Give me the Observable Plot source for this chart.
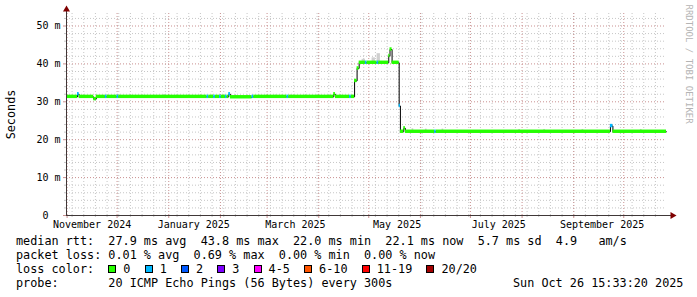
<!DOCTYPE html>
<html><head><meta charset="utf-8">
<script src="https://cdn.jsdelivr.net/npm/d3@7"></script>
<script src="https://cdn.jsdelivr.net/npm/@observablehq/plot@0.6"></script>
<style>
html,body{margin:0;padding:0;background:#fff;}
#wrap{width:697px;height:297px;position:relative;background:#fff;overflow:hidden;}
#wrap svg{display:block;}
#legend{position:absolute;left:0;top:232px;margin:0;padding:2px 0 0 16px;font-family:"DejaVu Sans Mono",monospace;font-size:11.8px;line-height:14px;color:#000;white-space:pre;}
#stamp{position:absolute;left:513px;top:276px;margin:0;font-family:"DejaVu Sans Mono",monospace;font-size:11.8px;line-height:14px;color:#000;white-space:pre;}
.box{display:inline-block;width:8px;height:8px;border:1px solid #000;box-sizing:border-box;margin-right:7px;vertical-align:baseline;}
</style></head><body><div id="wrap"></div>
<script>
// ---- time window (last 360 days) ----
const startTime = new Date("2024-10-31T15:33:20Z");
const endTime = new Date("2025-10-26T15:33:20Z");

// ---- median rtt (ms) as step points, with loss bucket index ----
const seriesDates = [
  "2024-10-31T15:33:20Z","2024-11-07T06:00Z","2024-11-08T06:00Z","2024-11-17T00:00Z","2024-11-18T12:00Z",
  "2024-11-24T00:00Z","2024-11-25T00:00Z","2024-12-01T00:00Z","2024-12-02T00:00Z",
  "2025-01-24T00:00Z","2025-01-25T00:00Z","2025-01-28T00:00Z","2025-01-29T00:00Z",
  "2025-01-31T12:00Z","2025-02-01T12:00Z","2025-02-04T00:00Z","2025-02-05T00:00Z",
  "2025-02-06T00:00Z","2025-02-07T00:00Z","2025-02-20T00:00Z","2025-02-21T00:00Z",
  "2025-03-13T00:00Z","2025-03-14T00:00Z","2025-04-10T00:00Z","2025-04-11T00:00Z",
  "2025-04-19T12:00Z","2025-04-20T12:00Z","2025-04-22T12:00Z","2025-04-24T00:00Z","2025-04-25T06:00Z",
  "2025-04-29T00:00Z","2025-04-30T00:00Z","2025-05-06T00:00Z","2025-05-07T00:00Z",
  "2025-05-13T00:00Z","2025-05-13T18:00Z","2025-05-15T00:00Z","2025-05-19T06:00Z","2025-05-20T00:00Z",
  "2025-05-22T00:00Z","2025-05-23T00:00Z","2025-06-09T12:00Z","2025-06-10T12:00Z",
  "2025-09-23T00:00Z","2025-09-24T12:00Z","2025-10-26T15:33:20Z"
];
const seriesRtt = [
  31.3,32.0,31.3,30.7,31.3,
  31.3,31.3,31.3,31.3,
  31.3,31.3,31.3,31.3,
  31.3,31.3,31.3,31.3,
  32.0,31.2,31.3,31.3,
  31.3,31.3,32.0,31.3,
  31.3,31.3,35.5,38.8,40.3,
  40.3,40.3,40.3,40.3,
  42.1,43.8,40.3,28.9,22.1,
  23.0,22.1,22.1,22.1,
  23.6,22.1,22.1
];
const seriesLoss = [
  0,1,0,0,0,
  1,0,1,0,
  1,0,1,0,
  1,0,1,0,
  1,0,1,0,
  1,0,0,0,
  1,0,0,0,0,
  1,0,1,0,
  0,0,0,1,0,
  0,0,1,0,
  1,0,0
];

// ---- smoke (light gray spread above the median) ----
const smokeFrom = ["2024-12-29","2025-01-06","2025-03-06","2025-03-15","2025-04-27","2025-05-03","2025-05-06","2025-05-27","2025-06-04","2025-06-14","2025-07-30","2025-08-14","2025-09-06","2025-10-11"];
const smokeTo   = ["2024-12-30","2025-01-07","2025-03-07","2025-03-16","2025-04-29","2025-05-05","2025-05-08","2025-05-28","2025-06-05","2025-06-15","2025-07-31","2025-08-15","2025-09-07","2025-10-12"];
const smokeLow  = [31.3,31.3,31.3,31.3,40.3,40.3,40.3,22.1,22.1,22.1,22.1,22.1,22.1,22.1];
const smokeHigh = [31.9,31.9,31.8,31.8,41.2,41.6,42.7,22.9,22.8,22.8,22.7,22.7,22.7,22.7];

// ---- axes ----
const yMax = 53.3;
const yMajorTicks = [0, 10, 20, 30, 40, 50];
const yMinorTicks = [2,4,6,8,12,14,16,18,22,24,26,28,32,34,36,38,42,44,46,48,52];
const xLabelDates = ["2024-11-16","2025-01-16","2025-03-18","2025-05-18","2025-07-18","2025-09-18"];

// ---- legend ----
const lossLabels = ["0","1","2","3","4-5","6-10","11-19","20/20"];
const lossColors = ["#26ff00","#00b8ff","#0059ff","#7e00ff","#ff00ff","#ff5500","#ff0000","#a10000"];
const statsRtt = "median rtt:  27.9 ms avg  43.8 ms max  22.0 ms min  22.1 ms now  5.7 ms sd  4.9   am/s";
const statsLoss = "packet loss: 0.01 % avg  0.69 % max  0.00 % min  0.00 % now";
const probeText = "probe:       20 ICMP Echo Pings (56 Bytes) every 300s";
const stampText = "Sun Oct 26 15:33:20 2025";
const yTitle = "Seconds";
const watermark = "RRDTOOL / TOBI OETIKER";

// ---- build tables ----
const pts = seriesDates.map((d, i) => ({date: new Date(d), rtt: seriesRtt[i], loss: lossLabels[seriesLoss[i]]}));
const half = 0.45;
const segs = pts.slice(0, -1).map((p, i) => ({d0: p.date, d1: pts[i + 1].date, lo: p.rtt - half, hi: p.rtt + half, loss: p.loss}));
const smoke = smokeFrom.map((d, i) => ({d0: new Date(d), d1: new Date(smokeTo[i]), lo: smokeLow[i], hi: smokeHigh[i]}));
const weekGrid = d3.utcMonday.range(startTime, endTime);
const monthGrid = d3.utcMonth.range(startTime, endTime);

const gridColor = "#c6c6c6";
const mgridColor = "#c99090";
const axisColor = "#403838";
const arrowColor = "#7f0000";

const chart = Plot.plot({
  width: 697,
  height: 232,
  marginLeft: 66,
  marginRight: 31,
  marginTop: 13,
  marginBottom: 17,
  style: {fontFamily: "'DejaVu Sans Mono', monospace", fontSize: "10px", background: "#fff", color: "#000"},
  x: {type: "utc", domain: [startTime, endTime]},
  y: {domain: [0, yMax]},
  color: {domain: lossLabels, range: lossColors},
  marks: [
    Plot.ruleY(yMinorTicks, {stroke: gridColor, strokeDasharray: "1,2"}),
    Plot.ruleX(weekGrid, {stroke: gridColor, strokeDasharray: "1,2"}),
    Plot.ruleY(yMajorTicks.filter(d => d > 0), {stroke: mgridColor, strokeDasharray: "1,2"}),
    Plot.ruleX(monthGrid, {stroke: mgridColor, strokeDasharray: "1,2"}),
    Plot.rect(smoke, {x1: "d0", x2: "d1", y1: "lo", y2: "hi", fill: "#cfcfcf"}),
    Plot.line(pts, {x: "date", y: "rtt", curve: "step-after", stroke: "#000", strokeWidth: 1}),
    Plot.rect(segs, {x1: "d0", x2: "d1", y1: "lo", y2: "hi", fill: "loss"}),
    Plot.axisY({ticks: yMinorTicks, tickSize: 2, tickFormat: () => "", stroke: gridColor}),
    Plot.axisY({ticks: yMajorTicks, tickSize: 3, tickPadding: 3, stroke: mgridColor, fill: "#000", fontSize: 10,
      tickFormat: d => d === 0 ? "0\u00a0\u00a0" : d + "\u00a0m"}),
    Plot.axisX({ticks: weekGrid, tickSize: 2, tickFormat: () => "", stroke: gridColor}),
    Plot.axisX({ticks: monthGrid, tickSize: 3, tickFormat: () => "", stroke: mgridColor}),
    Plot.axisX({ticks: xLabelDates.map(d => new Date(d)), tickSize: 0, tickPadding: 5, fontSize: 10, fill: "#000",
      tickFormat: d3.utcFormat("%B %Y")}),
    Plot.ruleY([0], {stroke: axisColor, insetRight: -5}),
    Plot.ruleX([startTime], {stroke: axisColor, insetTop: -4}),
    Plot.dot([0], {frameAnchor: "top-left", dy: -4, symbol: "triangle", r: 2.6, fill: arrowColor, stroke: null}),
    Plot.dot([0], {frameAnchor: "bottom-right", dx: 6, rotate: 90, symbol: "triangle", r: 2.6, fill: arrowColor, stroke: null}),
    Plot.text([yTitle], {frameAnchor: "left", dx: -55, rotate: -90, text: d => d, textAnchor: "middle", lineAnchor: "middle", fontSize: 11.8, fill: "#000"}),
    Plot.text([watermark], {frameAnchor: "top-right", dx: 22, dy: -9, rotate: 90, text: d => d, textAnchor: "start", lineAnchor: "middle", fontSize: 9, fill: "#b4b4b4"})
  ]
});

const wrap = document.getElementById("wrap");
wrap.appendChild(chart);

const legend = document.createElement("div");
legend.id = "legend";
const l1 = document.createElement("div"); l1.textContent = statsRtt;
const l2 = document.createElement("div"); l2.textContent = statsLoss;
const l3 = document.createElement("div");
l3.appendChild(document.createTextNode("loss color:  "));
lossLabels.forEach((lab, i) => {
  const b = document.createElement("span");
  b.className = "box";
  b.style.background = lossColors[i];
  l3.appendChild(b);
  l3.appendChild(document.createTextNode(lab + (i < lossLabels.length - 1 ? "  " : "")));
});
const l4 = document.createElement("div"); l4.textContent = probeText;
legend.append(l1, l2, l3, l4);
wrap.appendChild(legend);

const stamp = document.createElement("div");
stamp.id = "stamp";
stamp.textContent = stampText;
wrap.appendChild(stamp);
</script></body></html>
